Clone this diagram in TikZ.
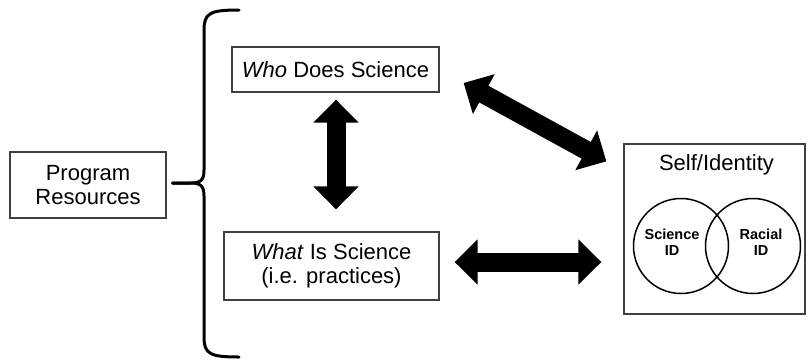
\documentclass[tikz,border=0pt]{standalone}
\usepackage{fontspec}
\setmainfont{Liberation Sans}
\usetikzlibrary{arrows.meta,calc}
\begin{document}
\begin{tikzpicture}[x=1pt,y=-1pt,
  box/.style={draw=black!75, line width=1.3pt, inner sep=0pt, align=center,
    font=\fontsize{22}{24.5}\selectfont},
  label/.style={inner sep=0pt, align=center, font=\fontsize{22}{24.5}\selectfont},
  idlabel/.style={inner sep=0pt, align=center, font=\bfseries\fontsize{14.5}{16.5}\selectfont},
  venn/.style={circle, draw=black, line width=1.5pt, minimum size=95pt, inner sep=0pt},
  fat/.style={line width=19pt,
    {Triangle[width=44pt,length=23pt]}-{Triangle[width=44pt,length=23pt]}},
  brace/.style={line width=3pt, line cap=round, line join=round}]
\useasboundingbox (0,0) rectangle (808,360);

% boxes
\node[box, minimum width=156pt, minimum height=66pt] (prog) at (88,185) {Program\\Resources};
\node[box, minimum width=207pt, minimum height=45pt] (who) at (335.5,69.5) {\textit{Who} Does Science};
\node[box, minimum width=215pt, minimum height=68pt] (what) at (331.5,266) {\textit{What} Is Science\\(i.e. practices)};
\node[box, minimum width=181pt, minimum height=170pt] (self) at (714.5,229) {};
\node[label] (selftitle) at (716.5,165) {Self/Identity};

% Venn diagram of identities
\node[venn] (sci) at (681,246) {};
\node[venn] (racial) at (753,246) {};
\node[idlabel] (scitext) at (672,242) {Science\\ID};
\node[idlabel] (racialtext) at (761,242) {Racial\\ID};

% curly brace grouping the two science boxes
\coordinate (tip) at ($(prog.east)+(6,-2)$);
\draw[brace] (tip) -- ++(18,0)
  .. controls +(10,0) and +(0,10) .. (204,170) -- (204,30)
  .. controls (204,13) and (210,10) .. (239,10);
\draw[brace] (tip) -- ++(18,0)
  .. controls +(10,0) and +(0,-10) .. (204,196) -- (204,337)
  .. controls (204,354) and (210,357) .. (239,357);

% block arrows
\draw[fat] ($(who.south)+(0.5,7)$) -- ($(what.north)+(4.5,-22)$);
\draw[fat] ($(what.east)+(15,-4)$) -- ($(what.east -| self.west)+(-22,-4)$);
\draw[fat] ($(who.east)+(24,13.5)$) -- ($(self.north west)+(-17,18)$);
\end{tikzpicture}
\end{document}
